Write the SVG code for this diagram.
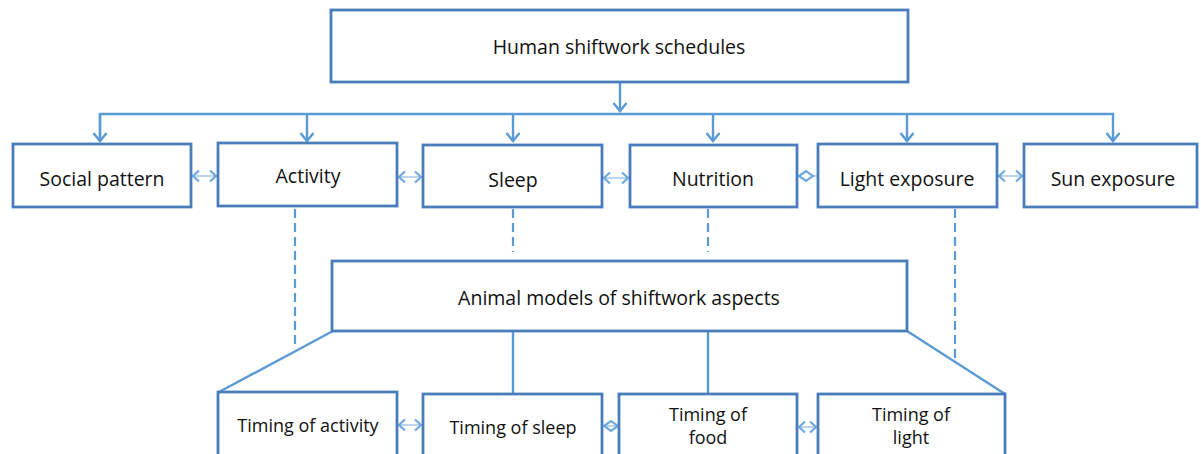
<svg xmlns="http://www.w3.org/2000/svg" width="1201" height="454" viewBox="0 0 1201 454">
  <style>
    .box { fill: #ffffff; stroke: #4A7EBB; stroke-width: 2.8; }
    .lbl { font-family: "Open Sans", "Liberation Sans", sans-serif; font-size: 19.5px; fill: #111111; text-anchor: middle; }
    .sm { font-size: 18px; }
    .link { fill: none; stroke: #5B9BD5; stroke-width: 2.4; }
    .dash { fill: none; stroke: #5B9BD5; stroke-width: 2.2; stroke-dasharray: 9 5; }
    .pair { fill: none; stroke: #8DB8E2; stroke-width: 1.2; }
    .head { fill: none; stroke: #6FA8DC; stroke-width: 2.2; stroke-linejoin: miter; }
  </style>
  <defs>
    <marker id="arr" markerUnits="userSpaceOnUse" markerWidth="20" markerHeight="20" refX="0" refY="0" viewBox="-10 -10 20 20" orient="auto">
      <path d="M-8,-6.5 L0,0 L-8,6.5" fill="none" stroke="#5B9BD5" stroke-width="2.4"/>
    </marker>
    <marker id="chev" markerUnits="userSpaceOnUse" markerWidth="20" markerHeight="20" refX="0" refY="0" viewBox="-10 -10 20 20" orient="auto-start-reverse">
      <path d="M-6,-5.5 L0,0 L-6,5.5" fill="none" stroke="#6FA8DC" stroke-width="2.2"/>
    </marker>
  </defs>

  <rect width="1201" height="454" fill="#ffffff"/>

  <!-- connectors -->
  <g id="connectors">
    <!-- top fan-out -->
    <path class="link" d="M620,82 V111" marker-end="url(#arr)"/>
    <path class="link" d="M100,141 V114 H1113 V141" marker-end="url(#arr)"/>
    <path class="link" d="M100,114 V141" marker-end="url(#arr)"/>
    <path class="link" d="M307,114 V141" marker-end="url(#arr)"/>
    <path class="link" d="M513,114 V141" marker-end="url(#arr)"/>
    <path class="link" d="M713,114 V141" marker-end="url(#arr)"/>
    <path class="link" d="M907,114 V141" marker-end="url(#arr)"/>

    <!-- links between the top-row boxes -->
    <path class="pair" d="M193,176 H216" marker-start="url(#chev)" marker-end="url(#chev)"/>
    <path class="pair" d="M399,177 H421" marker-start="url(#chev)" marker-end="url(#chev)"/>
    <path class="pair" d="M604,178 H628" marker-start="url(#chev)" marker-end="url(#chev)"/>
    <path class="pair" d="M812,176 H817"/>
    <path class="head" d="M799,176 L806,171 L813,176 L806,181 Z"/>
    <path class="pair" d="M999,176 H1022" marker-start="url(#chev)" marker-end="url(#chev)"/>

    <!-- dashed links down to the animal models -->
    <path class="dash" d="M295,209 V344"/>
    <path class="dash" d="M513,209 V252"/>
    <path class="dash" d="M708,209 V252"/>
    <path class="dash" d="M955,209 V362"/>

    <!-- animal models to timing boxes -->
    <path class="link" d="M333,331 L219,392"/>
    <path class="link" d="M907,331 L1005,394"/>
    <path class="link" d="M513,332 V394"/>
    <path class="link" d="M708,332 V394"/>

    <!-- links between the timing boxes -->
    <path class="pair" d="M399,425 H421" marker-start="url(#chev)" marker-end="url(#chev)"/>
    <path class="pair" d="M604,426 H618"/>
    <path class="head" d="M604,426 L611,421 L618,426 L611,431 Z"/>
    <path class="pair" d="M799,427 H816" marker-start="url(#chev)" marker-end="url(#chev)"/>
  </g>

  <g id="human-shiftwork">
    <rect class="box" x="331" y="10" width="577" height="72"/>
    <text class="lbl" x="619" y="54">Human shiftwork schedules</text>
  </g>

  <g id="social-pattern">
    <rect class="box" x="13" y="144" width="178" height="63"/>
    <text class="lbl" x="102" y="186">Social pattern</text>
  </g>
  <g id="activity">
    <rect class="box" x="218" y="143" width="179" height="63"/>
    <text class="lbl" x="308" y="183">Activity</text>
  </g>
  <g id="sleep">
    <rect class="box" x="423" y="145" width="179" height="62"/>
    <text class="lbl" x="513" y="187">Sleep</text>
  </g>
  <g id="nutrition">
    <rect class="box" x="630" y="145" width="167" height="62"/>
    <text class="lbl" x="713" y="186">Nutrition</text>
  </g>
  <g id="light-exposure">
    <rect class="box" x="818" y="144" width="179" height="63"/>
    <text class="lbl" x="907" y="186">Light exposure</text>
  </g>
  <g id="sun-exposure">
    <rect class="box" x="1024" y="144" width="173" height="63"/>
    <text class="lbl" x="1113" y="186">Sun exposure</text>
  </g>

  <g id="animal-models">
    <rect class="box" x="332" y="261" width="575" height="70"/>
    <text class="lbl" x="619" y="305">Animal models of shiftwork aspects</text>
  </g>

  <g id="timing-activity">
    <rect class="box" x="218" y="392" width="179" height="80"/>
    <text class="lbl sm" x="308" y="432">Timing of activity</text>
  </g>
  <g id="timing-sleep">
    <rect class="box" x="423" y="394" width="179" height="80"/>
    <text class="lbl sm" x="513" y="434">Timing of sleep</text>
  </g>
  <g id="timing-food">
    <rect class="box" x="619" y="394" width="178" height="80"/>
    <text class="lbl sm" x="708" y="421">Timing of</text>
    <text class="lbl sm" x="708" y="444">food</text>
  </g>
  <g id="timing-light">
    <rect class="box" x="818" y="394" width="187" height="80"/>
    <text class="lbl sm" x="911" y="421">Timing of</text>
    <text class="lbl sm" x="911" y="444">light</text>
  </g>
</svg>
